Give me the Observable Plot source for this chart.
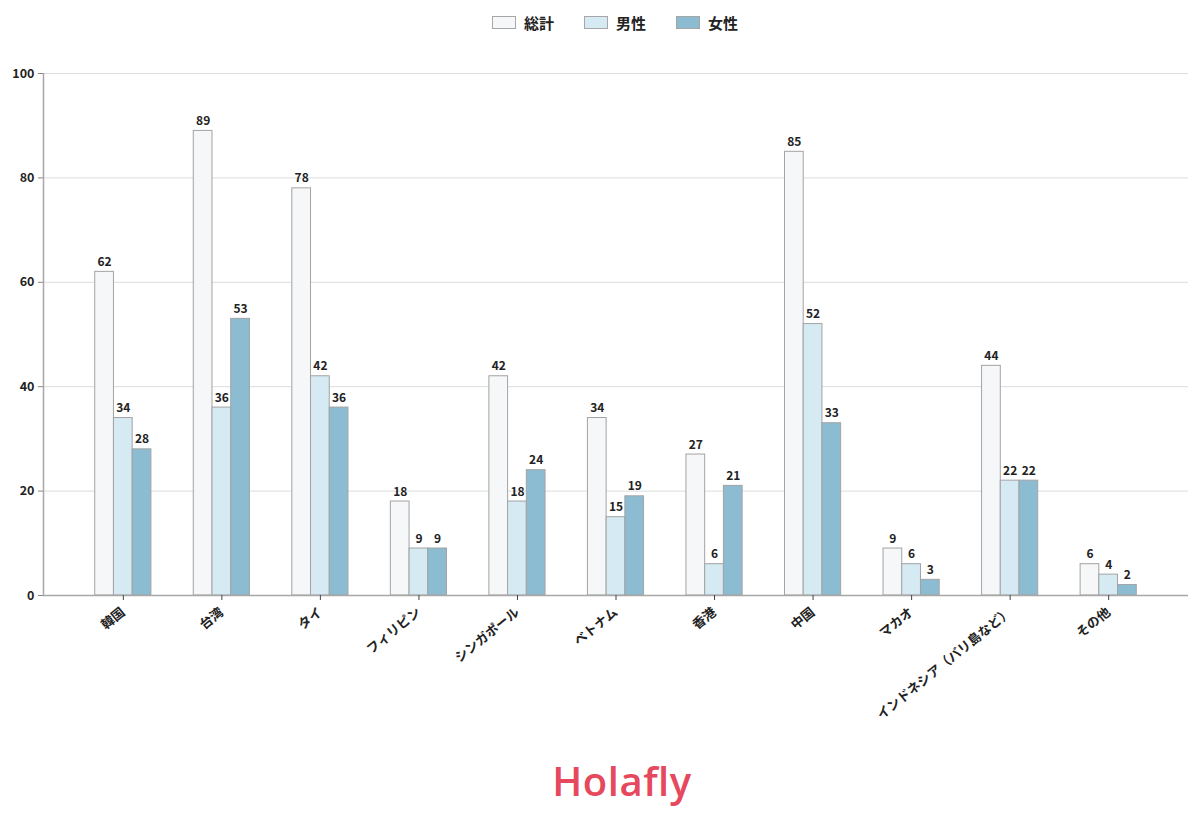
<!DOCTYPE html>
<html>
<head>
<meta charset="utf-8">
<script src="https://cdn.jsdelivr.net/npm/d3@7"></script>
<script src="https://cdn.jsdelivr.net/npm/@observablehq/plot@0.6"></script>
<style>
  html, body { margin: 0; padding: 0; background: #fff; }
  body { width: 1200px; height: 828px; overflow: hidden; font-family: "Noto Sans CJK JP", "Noto Sans", sans-serif; }
  #legend { height: 45px; display: flex; justify-content: center; align-items: center; gap: 30px; padding-left: 30px; box-sizing: border-box; }
  .item { display: flex; align-items: center; gap: 8px; font-size: 15px; font-weight: 700; color: #222; }
  .sw { width: 22px; height: 11px; border: 1px solid #a6a6a6; }
  #chart svg { display: block; overflow: visible; }
  #logo { height: 70px; display: flex; justify-content: center; align-items: center; padding-left: 44px; box-sizing: border-box; }
  #logo span { font-family: "Open Sans", sans-serif; font-weight: 600; font-size: 40px; color: #e6485d; letter-spacing: 0.5px; }
</style>
</head>
<body>
<div id="legend"></div>
<div id="chart"></div>
<div id="logo"><span>Holafly</span></div>
<script>
const countries = ["韓国","台湾","タイ","フィリピン","シンガポール","ベトナム","香港","中国","マカオ","インドネシア（バリ島など）","その他"];
const seriesNames = ["総計","男性","女性"];
const totalValues = [62,89,78,18,42,34,27,85,9,44,6];
const maleValues = [34,36,42,9,18,15,6,52,6,22,4];
const femaleValues = [28,53,36,9,24,19,21,33,3,22,2];
const yTicks = [0,20,40,60,80,100];

const seriesColors = ["#f6f7f9","#d6eaf3","#8bbcd1"];
const font = "Noto Sans CJK JP";

const valueSets = [totalValues, maleValues, femaleValues];
const rows = countries.flatMap((c, i) =>
  valueSets.map((vals, s) => ({i, country: c, s, series: seriesNames[s], value: vals[i]}))
);

// legend
const legend = document.getElementById("legend");
seriesNames.forEach((n, k) => {
  const it = document.createElement("div");
  it.className = "item";
  it.innerHTML = `<span class="sw" style="background:${seriesColors[k]}"></span><span>${n}</span>`;
  legend.appendChild(it);
});

const barW = 0.19;
const xDomain = [-0.81, countries.length - 1 + 0.81];

const chart = Plot.plot({
  width: 1200,
  height: 700,
  marginTop: 28,
  marginBottom: 150,
  marginLeft: 43,
  marginRight: 12,
  style: {fontFamily: font, fontSize: "12px", color: "#222", background: "#fff"},
  x: {type: "linear", domain: xDomain},
  y: {domain: [0, 100]},
  color: {domain: seriesNames, range: seriesColors},
  marks: [
    Plot.gridY(yTicks, {stroke: "#dcdcdc", strokeOpacity: 1}),
    Plot.rectY(rows, {
      x1: d => d.i + (d.s - 1.5) * barW,
      x2: d => d.i + (d.s - 0.5) * barW,
      y: "value",
      fill: "series",
      stroke: "#a3a3a3",
      strokeWidth: 1
    }),
    Plot.text(rows, {
      x: d => d.i + (d.s - 1) * barW,
      y: "value",
      text: d => String(d.value),
      lineAnchor: "bottom",
      dy: -6,
      fontSize: 12,
      fontWeight: 600,
      fill: "#222"
    }),
    Plot.ruleY([0], {stroke: "#a8a8a8", strokeWidth: 1.5}),
    Plot.ruleX([xDomain[0]], {stroke: "#a8a8a8", strokeWidth: 1.5}),
    Plot.axisY(yTicks, {tickSize: 5, stroke: "#888", tickPadding: 4, fontWeight: 600, fontSize: 12.5, label: null}),
    Plot.axisX(d3.range(countries.length), {
      tickFormat: i => countries[i],
      tickRotate: -39,
      tickSize: 5,
      tickPadding: 10,
      stroke: "#444",
      fontWeight: 600,
      fontSize: 13,
      label: null
    })
  ]
});
document.getElementById("chart").appendChild(chart);
</script>
</body>
</html>
